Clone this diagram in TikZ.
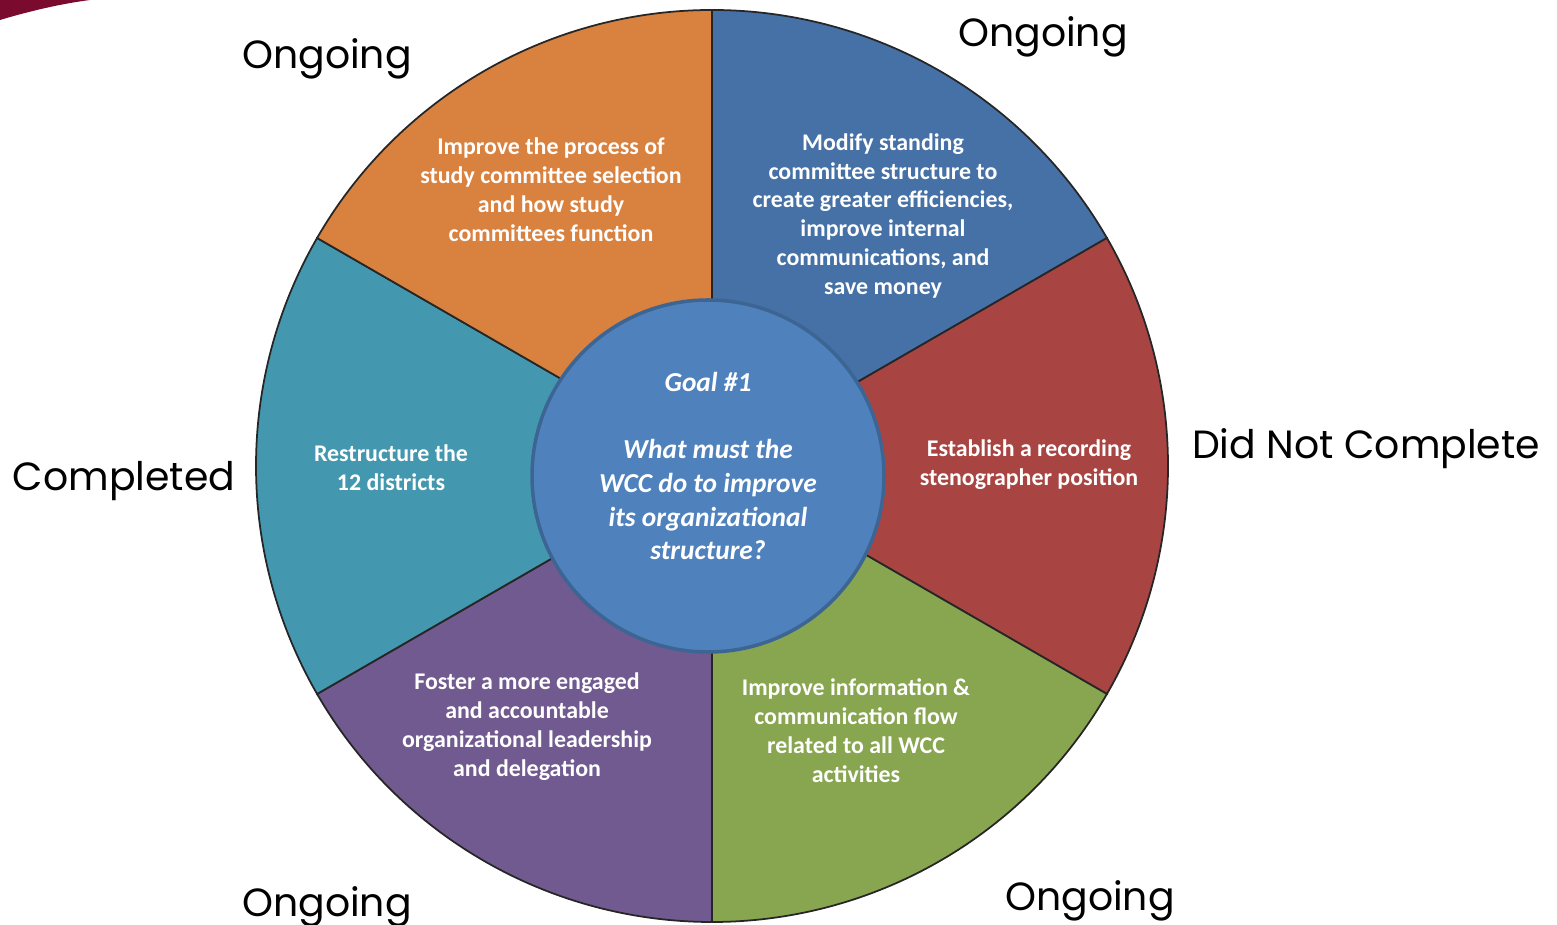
\documentclass[tikz,border=0pt]{standalone}
\usepackage{fontspec}
\usepackage{tikz}
\usetikzlibrary{positioning}
\newfontfamily\calfont{Carlito}
\newfontfamily\gothfont{Poppins}
\definecolor{wheelorange}{HTML}{D9813E}
\definecolor{wheelblue}{HTML}{4571A6}
\definecolor{wheelred}{HTML}{A84543}
\definecolor{wheelgreen}{HTML}{88A550}
\definecolor{wheelpurple}{HTML}{715A8F}
\definecolor{wheelteal}{HTML}{4398AF}
\definecolor{hubblue}{HTML}{4F81BD}
\definecolor{hubedge}{HTML}{3C6593}
\definecolor{swoosh}{HTML}{7A0A2E}
\tikzset{
  sector/.style={draw=black!85, line width=0.5pt},
  tasktext/.style={text=white, align=center, font={\calfont\bfseries\fontsize{6.8}{8.25}\selectfont}},
  hubtext/.style={text=white, align=center, font={\calfont\bfseries\itshape\fontsize{7.8}{9.6}\selectfont}},
  statustext/.style={text=black, font={\gothfont\fontsize{11.2}{13}\selectfont}}
}

\begin{document}
\begin{tikzpicture}
  \useasboundingbox (0,0) rectangle (15.57,-9.25);
  \fill[swoosh] (0,0) -- (0,-0.2) .. controls (0.3,-0.11) and (0.6,-0.04) .. (0.9,0) -- cycle;
  \coordinate (c) at (7.12,-4.66);
  % wheel
  \filldraw[sector, fill=wheelblue]   (c) -- ++(90:4.56) arc (90:30:4.56) -- cycle;
  \filldraw[sector, fill=wheelred]    (c) -- ++(30:4.56) arc (30:-30:4.56) -- cycle;
  \filldraw[sector, fill=wheelgreen]  (c) -- ++(-30:4.56) arc (-30:-90:4.56) -- cycle;
  \filldraw[sector, fill=wheelpurple] (c) -- ++(-90:4.56) arc (-90:-150:4.56) -- cycle;
  \filldraw[sector, fill=wheelteal]   (c) -- ++(210:4.56) arc (210:150:4.56) -- cycle;
  \filldraw[sector, fill=wheelorange] (c) -- ++(150:4.56) arc (150:90:4.56) -- cycle;
  \filldraw[fill=hubblue, draw=hubedge, line width=1pt] (7.08,-4.76) circle (1.76);
  \node[hubtext] (goal) at (7.08,-4.66) {Goal \#1\\[9.6pt] What must the\\WCC do to improve\\its organizational\\structure?};
  % tasks
  \node[tasktext] (selection) at (5.51,-1.90) {Improve the process of\\study committee selection\\and how study\\committees function};
  \node[tasktext] (standing) at (8.83,-2.16) {Modify standing\\committee structure to\\create greater efficiencies,\\improve internal\\communications, and\\save money};
  \node[tasktext] (steno) at (10.29,-4.65) {Establish a recording\\stenographer position};
  \node[tasktext] (infoflow) at (8.56,-7.31) {Improve information \&\\communication flow\\related to all WCC\\activities};
  \node[tasktext] (leadership) at (5.27,-7.27) {Foster a more engaged\\and accountable\\organizational leadership\\and delegation};
  \node[tasktext] (districts) at (3.91,-4.68) {Restructure the\\12 districts};
  % status
  \node[statustext] (s1) at (3.27,-0.59) {Ongoing};
  \node[statustext] (s2) at (10.43,-0.37) {Ongoing};
  \node[statustext] (s3) at (13.66,-4.49) {Did Not Complete};
  \node[statustext] (s4) at (10.90,-9.01) {Ongoing};
  \node[statustext] (s5) at (3.27,-9.07) {Ongoing};
  \node[statustext] (s6) at (1.24,-4.81) {Completed};
\end{tikzpicture}
\end{document}
